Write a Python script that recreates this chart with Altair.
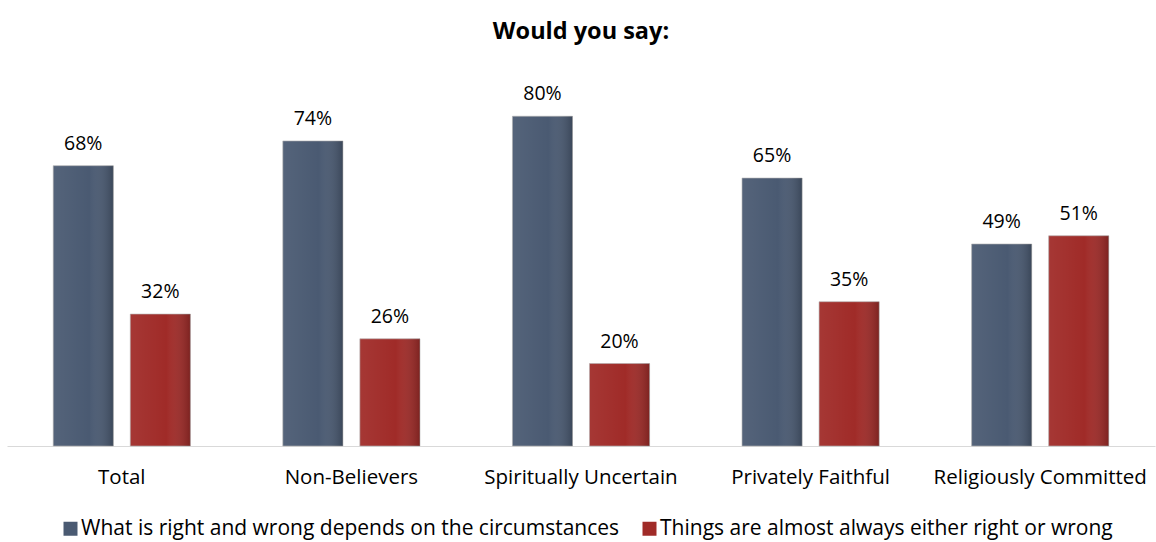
import altair as alt
import pandas as pd

categories = ["Total", "Non-Believers", "Spiritually Uncertain", "Privately Faithful", "Religiously Committed"]
series = ["What is right and wrong depends on the circumstances",
          "Things are almost always either right or wrong"]
values_a = [68, 74, 80, 65, 49]
values_b = [32, 26, 20, 35, 51]
colors = ["#4a5a72", "#a02b28"]

rows = []
for c, a, b in zip(categories, values_a, values_b):
    rows.append({"cat": c, "series": series[0], "v": a, "lbl": f"{a}%"})
    rows.append({"cat": c, "series": series[1], "v": b, "lbl": f"{b}%"})
df = pd.DataFrame(rows)

FONT = "Open Sans"

x = alt.X("cat:N", sort=categories, title=None,
          scale=alt.Scale(paddingInner=0, paddingOuter=0),
          axis=alt.Axis(labelAngle=0, ticks=False, tickSize=0, labelPadding=21,
                        domainColor="#d9d9d9", labelFontSize=20.5, labelFont=FONT,
                        labelColor="#000000", labelLimit=400))
xo = alt.XOffset("series:N", sort=series,
                 scale=alt.Scale(paddingInner=0.22, paddingOuter=0.6))
y = alt.Y("v:Q", scale=alt.Scale(domain=[0, 90]), axis=None)

bars = alt.Chart(df).mark_bar(stroke="#b0b0b0", strokeWidth=0.6).encode(
    x=x, xOffset=xo, y=y,
    color=alt.Color("series:N", sort=series,
                    scale=alt.Scale(domain=series, range=colors),
                    legend=alt.Legend(title=None, orient="none", direction="horizontal",
                                      legendX=53, legendY=443, symbolType="square",
                                      symbolSize=196, symbolStrokeWidth=0,
                                      labelFontSize=21, labelFont=FONT, labelOffset=0,
                                      labelColor="#000000", labelLimit=700,
                                      columnPadding=19, symbolOffset=0))
)

shade = alt.Chart(df).mark_bar(
    fill=alt.Gradient(gradient="linear", x1=0, x2=1, y1=0, y2=0,
                      stops=[alt.GradientStop(color="rgba(255,255,255,0.06)", offset=0),
                             alt.GradientStop(color="rgba(255,255,255,0.0)", offset=0.6),
                             alt.GradientStop(color="rgba(0,0,0,0.22)", offset=1)])
).encode(x=x, xOffset=xo, y=y)

labels = alt.Chart(df).mark_text(dy=-22, fontSize=19.5, font=FONT, color="#000000").encode(
    x=x, xOffset=xo, y=y, text="lbl:N")

chart = alt.layer(bars, shade, labels).properties(
    width=1148, height=371,
    title=alt.TitleParams("Would you say:", fontSize=23.5, font=FONT, fontWeight="bold",
                          anchor="middle", offset=32, color="#000000"),
    padding={"left": 7, "top": 75, "right": 1, "bottom": 96},
    autosize=alt.AutoSizeParams(type="none")
).configure_view(stroke=None)

chart.save("out.html", embed_options={"renderer": "svg", "actions": False})
